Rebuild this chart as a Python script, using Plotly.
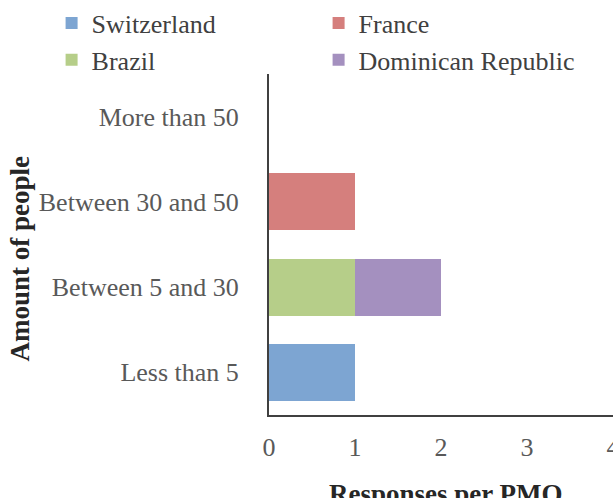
import plotly.graph_objects as go

categories = ["Less than 5", "Between 5 and 30", "Between 30 and 50", "More than 50"]
switzerland = [1, 0, 0, 0]
brazil = [0, 1, 0, 0]
france = [0, 0, 1, 0]
dominican = [0, 1, 0, 0]
x_ticks = [0, 1, 2, 3, 4]

FONT = "Liberation Serif"
series = [
    ("Switzerland", switzerland, "#7DA5D2", 1),
    ("France", france, "#D57F7D", 2),
    ("Brazil", brazil, "#B6CE89", 3),
    ("Dominican Republic", dominican, "#A490BF", 4),
]
# stacking order: Switzerland, Brazil, France, Dominican
order = [0, 2, 1, 3]

fig = go.Figure()
for i in order:
    name, vals, col, rank = series[i]
    fig.add_trace(go.Bar(
        y=categories, x=vals, name=name, orientation="h",
        marker=dict(color=col, line=dict(width=0)),
        legendrank=rank,
    ))

fig.update_layout(
    width=613, height=498,
    margin=dict(l=269, r=0, t=74, b=83, autoexpand=False),
    barmode="stack", bargap=0.33,
    plot_bgcolor="white", paper_bgcolor="white",
    font=dict(family=FONT, size=26, color="#595959"),
    showlegend=True,
    legend=dict(
        orientation="h", x=-0.632, xref="paper", xanchor="left",
        y=1.2185, yref="paper", yanchor="top",
        entrywidth=222, entrywidthmode="pixels",
        bgcolor="rgba(0,0,0,0)",
        font=dict(family=FONT, size=26, color="#404040"),
        traceorder="normal", itemwidth=30,
    ),
    xaxis=dict(
        range=[0, 4], tickvals=x_ticks, showgrid=False, zeroline=False,
        showline=True, linecolor="#404040", linewidth=2,
        ticks="", ticklabelstandoff=8, ticklabeloverflow="allow",
        tickfont=dict(family=FONT, size=26, color="#595959"),
    ),
    yaxis=dict(
        categoryorder="array", categoryarray=categories,
        showgrid=False, zeroline=False,
        showline=True, linecolor="#404040", linewidth=2,
        ticks="", ticklabelstandoff=23,
        tickfont=dict(family=FONT, size=26, color="#595959"),
    ),
    annotations=[
        dict(text="<b>Amount of people</b>", textangle=-90,
             xref="paper", yref="paper", x=0, y=0.5, xshift=-250, yshift=-14,
             xanchor="center", yanchor="middle", showarrow=False,
             font=dict(family=FONT, size=27, color="#262626")),
        dict(text="<b>Responses per PMO</b>",
             xref="paper", yref="paper", x=0.5, y=0, yshift=-62, xshift=5,
             xanchor="center", yanchor="top", showarrow=False,
             font=dict(family=FONT, size=27, color="#262626")),
    ],
)
fig.write_html("out.html")
